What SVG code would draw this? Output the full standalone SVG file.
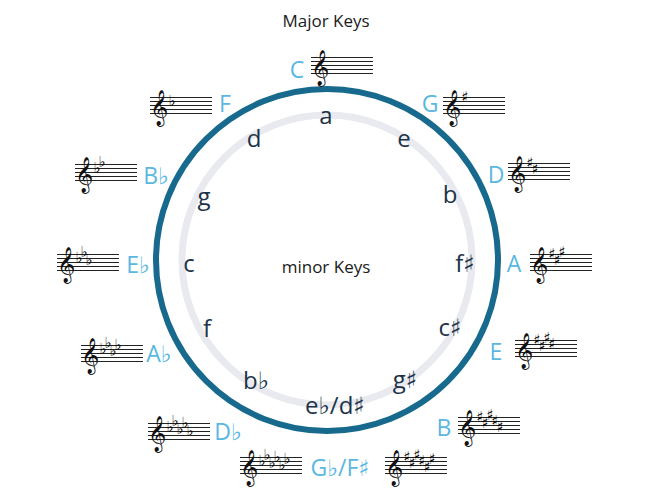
<svg xmlns="http://www.w3.org/2000/svg" xmlns:xlink="http://www.w3.org/1999/xlink" width="650" height="500" viewBox="0 0 650 500">
<style>
.maj{font-family:"Open Sans","DejaVu Sans",sans-serif;font-size:23px;fill:#5ab7e1;text-anchor:middle}
.min{font-family:"Open Sans","DejaVu Sans",sans-serif;font-size:24px;fill:#1c3349;text-anchor:middle}
.ttl{font-family:"Open Sans","DejaVu Sans",sans-serif;font-size:17px;fill:#1a1a1a;text-anchor:middle}
.clef{font-family:"DejaVu Sans","Noto Sans",sans-serif;font-size:31px;fill:#111;text-anchor:middle}
.acc{font-family:"DejaVu Sans",sans-serif;font-size:15px;fill:#000;text-anchor:middle;dominant-baseline:central}
.sl{stroke:#222;stroke-width:1;fill:none}
</style>
<defs>
<path id="staff" class="sl" d="M0 0.5h62M0 4.5h62M0 8.5h62M0 12.5h62M0 16.5h62"/>
</defs>
<rect width="650" height="500" fill="#fff"/>
<g id="rings">
<circle cx="327" cy="260" r="145" fill="none" stroke="#e9eaef" stroke-width="7"/>
<circle cx="327" cy="260" r="171" fill="none" stroke="#176a8d" stroke-width="6"/>
</g>
<g id="titles">
<text class="ttl" x="326" y="27">Major Keys</text>
<text class="ttl" x="326" y="273">minor Keys</text>
</g>
<g id="minor">
<text class="min" x="326" y="124">a</text>
<text class="min" x="404" y="147">e</text>
<text class="min" x="450" y="203">b</text>
<text class="min" x="465" y="272">f♯</text>
<text class="min" x="450" y="336">c♯</text>
<text class="min" x="405" y="388">g♯</text>
<text class="min" x="335" y="414">e♭/d♯</text>
<text class="min" x="256" y="389">b♭</text>
<text class="min" x="207" y="337">f</text>
<text class="min" x="189" y="272">c</text>
<text class="min" x="204" y="205">g</text>
<text class="min" x="254" y="147">d</text>
</g>
<g id="key-C"><text class="maj" x="297" y="78">C</text><use xlink:href="#staff" x="311" y="57"/><text class="clef" x="320" y="78">𝄞</text></g>
<g id="key-G"><text class="maj" x="430" y="112">G</text><use xlink:href="#staff" x="443" y="97"/><text class="clef" x="452" y="118">𝄞</text><text class="acc" x="465" y="97">♯</text></g>
<g id="key-D"><text class="maj" x="496" y="183">D</text><use xlink:href="#staff" x="508" y="163"/><text class="clef" x="517" y="184">𝄞</text><text class="acc"><tspan x="530" y="163">♯</tspan><tspan x="535" y="169">♯</tspan></text></g>
<g id="key-A"><text class="maj" x="514" y="272">A</text><use xlink:href="#staff" x="530" y="254"/><text class="clef" x="539" y="275">𝄞</text><text class="acc"><tspan x="552" y="254">♯</tspan><tspan x="557" y="260">♯</tspan><tspan x="562" y="252">♯</tspan></text></g>
<g id="key-E"><text class="maj" x="496" y="360">E</text><use xlink:href="#staff" x="515" y="340"/><text class="clef" x="524" y="361">𝄞</text><text class="acc"><tspan x="537" y="340">♯</tspan><tspan x="542" y="346">♯</tspan><tspan x="547" y="338">♯</tspan><tspan x="552" y="344">♯</tspan></text></g>
<g id="key-B"><text class="maj" x="444" y="436">B</text><use xlink:href="#staff" x="458" y="417"/><text class="clef" x="467" y="438">𝄞</text><text class="acc"><tspan x="480" y="417">♯</tspan><tspan x="485" y="423">♯</tspan><tspan x="490" y="415">♯</tspan><tspan x="495" y="421">♯</tspan><tspan x="500" y="427">♯</tspan></text></g>
<g id="key-Gb-Fs"><text class="maj" x="340" y="476">G♭/F♯</text>
<use xlink:href="#staff" x="240" y="457"/><text class="clef" x="249" y="478">𝄞</text><text class="acc"><tspan x="262" y="461">♭</tspan><tspan x="267" y="455">♭</tspan><tspan x="272" y="463">♭</tspan><tspan x="277" y="457">♭</tspan><tspan x="282" y="465">♭</tspan><tspan x="287" y="459">♭</tspan></text>
<use xlink:href="#staff" x="385" y="457"/><text class="clef" x="394" y="478">𝄞</text><text class="acc"><tspan x="407" y="457">♯</tspan><tspan x="412" y="463">♯</tspan><tspan x="417" y="455">♯</tspan><tspan x="422" y="461">♯</tspan><tspan x="427" y="467">♯</tspan><tspan x="432" y="459">♯</tspan></text></g>
<g id="key-Db"><text class="maj" x="228" y="440">D♭</text><use xlink:href="#staff" x="148" y="423"/><text class="clef" x="157" y="444">𝄞</text><text class="acc"><tspan x="170" y="427">♭</tspan><tspan x="175" y="421">♭</tspan><tspan x="180" y="429">♭</tspan><tspan x="185" y="423">♭</tspan><tspan x="190" y="431">♭</tspan></text></g>
<g id="key-Ab"><text class="maj" x="159" y="362">A♭</text><use xlink:href="#staff" x="81" y="345"/><text class="clef" x="90" y="366">𝄞</text><text class="acc"><tspan x="103" y="349">♭</tspan><tspan x="108" y="343">♭</tspan><tspan x="113" y="351">♭</tspan><tspan x="118" y="345">♭</tspan></text></g>
<g id="key-Eb"><text class="maj" x="138" y="273">E♭</text><use xlink:href="#staff" x="57" y="254"/><text class="clef" x="66" y="275">𝄞</text><text class="acc"><tspan x="79" y="258">♭</tspan><tspan x="84" y="252">♭</tspan><tspan x="89" y="260">♭</tspan></text></g>
<g id="key-Bb"><text class="maj" x="156" y="184">B♭</text><use xlink:href="#staff" x="75" y="164"/><text class="clef" x="84" y="185">𝄞</text><text class="acc"><tspan x="97" y="168">♭</tspan><tspan x="102" y="162">♭</tspan></text></g>
<g id="key-F"><text class="maj" x="225" y="112">F</text><use xlink:href="#staff" x="150" y="97"/><text class="clef" x="159" y="118">𝄞</text><text class="acc" x="172" y="101">♭</text></g>
</svg>
